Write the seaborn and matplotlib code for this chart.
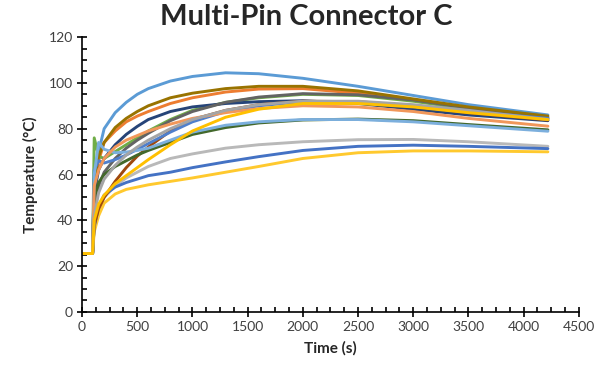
import numpy as np
import pandas as pd
import matplotlib
matplotlib.use("Agg")
import matplotlib.pyplot as plt
from matplotlib.ticker import MultipleLocator
import seaborn as sns

# Sample times (s) shared by every pin trace
time_s = [0, 95, 110, 150, 200, 300, 400, 500, 600, 800, 1000, 1300, 1600, 2000, 2500, 3000, 3500, 4220]

# Temperature (°C) per pin at the sample times
pin_01 = [25.5, 25.5, 58, 70, 80, 87, 91.5, 95, 97.5, 100.8, 102.8, 104.4, 104.0, 102.0, 98.5, 94.5, 90.5, 86.0]
pin_02 = [25.5, 25.5, 55, 66, 74, 79, 83, 85.5, 87.5, 91, 93.5, 96, 97.3, 97.5, 95.5, 92.5, 89, 84.5]
pin_03 = [25.5, 25.5, 38, 45, 50, 55, 58.5, 61, 63.5, 67, 69, 71.5, 73, 74.3, 75.2, 75.3, 74.3, 72.3]
pin_04 = [25.5, 25.5, 35, 42, 47.5, 51.5, 53.5, 54.5, 55.5, 57, 58.5, 61, 63.5, 67, 69.5, 70.3, 70.3, 69.9]
pin_05 = [25.5, 25.5, 37, 46, 51, 54.5, 56.5, 58, 59.5, 61, 63, 65.5, 67.8, 70.5, 72.3, 72.8, 72.3, 71.3]
pin_06 = [25.5, 25.5, 76, 68, 67, 70, 73, 76, 79, 84, 88, 91.5, 93.5, 95, 94.5, 92, 88.5, 84.5]
pin_07 = [25.5, 25.5, 52, 62, 67, 73, 77.5, 81, 84, 87.5, 89.5, 91, 91.8, 92.2, 91, 88.5, 86, 83.5]
pin_08 = [25.5, 25.5, 38, 45, 50, 57, 63, 68, 72, 79, 84, 88, 90.5, 92, 91.8, 90, 87, 83.8]
pin_09 = [25.5, 25.5, 45, 55, 61, 67, 71.5, 75, 78, 83.5, 87.5, 91.5, 93.8, 95.3, 94.8, 92.5, 89, 85.0]
pin_10 = [25.5, 25.5, 58, 68, 74, 80.5, 84.5, 87.5, 90, 93.5, 95.5, 97.5, 98.5, 98.5, 96.5, 93, 89.5, 85.5]
pin_11 = [25.5, 25.5, 62, 66, 65, 66.5, 68.5, 71, 73.5, 78.5, 83, 87.5, 90, 91.8, 91.5, 90, 87.5, 84.5]
pin_12 = [25.5, 25.5, 50, 56.5, 60, 63.5, 66, 68.5, 70.5, 74, 77.5, 80.5, 82.5, 83.8, 84.2, 83.5, 81.8, 79.5]
pin_13 = [25.5, 25.5, 60, 74, 71, 69.5, 69.8, 70.5, 71.5, 75, 78.5, 81.5, 83, 84, 84, 83, 81.3, 78.9]
pin_14 = [25.5, 25.5, 55, 62, 67, 72, 75, 77, 79, 82, 84.5, 87, 88.8, 90, 89.5, 87.5, 84.5, 81.1]
pin_15 = [25.5, 25.5, 42, 52, 58, 64, 68.5, 72, 75, 80, 84, 88, 90.5, 92, 92, 90.5, 88, 84.0]
pin_16 = [25.5, 25.5, 40, 47, 51, 56, 59.5, 63, 66.5, 73, 79, 85, 88.5, 91, 91, 89.5, 87, 84.0]

series = {
    "Pin 1": pin_01, "Pin 2": pin_02, "Pin 3": pin_03, "Pin 4": pin_04,
    "Pin 5": pin_05, "Pin 6": pin_06, "Pin 7": pin_07, "Pin 8": pin_08,
    "Pin 9": pin_09, "Pin 10": pin_10, "Pin 11": pin_11, "Pin 12": pin_12,
    "Pin 13": pin_13, "Pin 14": pin_14, "Pin 15": pin_15, "Pin 16": pin_16,
}

colors = ["#5B9BD5", "#ED7D31", "#B9B9B9", "#FFC92E", "#4472C4", "#70AD47",
          "#264478", "#9E480E", "#636363", "#997300", "#4F7FCC", "#43682B",
          "#7CAFDD", "#F1975A", "#A5A5A5", "#FFC000"]

frames = [pd.DataFrame({"Time (s)": time_s, "Temperature": vals, "pin": name})
          for name, vals in series.items()]
df = pd.concat(frames, ignore_index=True)

sns.set_style("ticks")
plt.rcParams["font.family"] = ["Lato", "DejaVu Sans"]

fig = plt.figure(figsize=(6.08, 3.67), dpi=100)
ax = fig.add_axes([0.135, 0.150, 0.817, 0.749])

sns.lineplot(data=df, x="Time (s)", y="Temperature", hue="pin",
             palette=colors, linewidth=2.1, legend=False, sort=False,
             estimator=None, ax=ax)

ax.set_xlim(0, 4500)
ax.set_ylim(0, 120)
ax.xaxis.set_major_locator(MultipleLocator(500))
ax.xaxis.set_minor_locator(MultipleLocator(125))
ax.yaxis.set_major_locator(MultipleLocator(20))
ax.yaxis.set_minor_locator(MultipleLocator(5))

for side in ("top", "right"):
    ax.spines[side].set_visible(False)
for side in ("left", "bottom"):
    ax.spines[side].set_color("black")
    ax.spines[side].set_linewidth(1.2)

ax.tick_params(which="major", direction="inout", length=7, width=1.2,
               color="black", labelsize=10, labelcolor="#404040", pad=3)
ax.tick_params(which="minor", direction="in", length=3.5, width=1.2, color="black")

ax.set_xlabel("Time (s)", fontsize=11, fontweight="bold", labelpad=6)
ax.set_ylabel("Temperature (°C)", fontsize=11, fontweight="bold", labelpad=8)
fig.suptitle("Multi-Pin Connector C", fontsize=21, fontweight="bold", x=0.503, y=0.99)

fig.savefig("out.png", dpi=100)
